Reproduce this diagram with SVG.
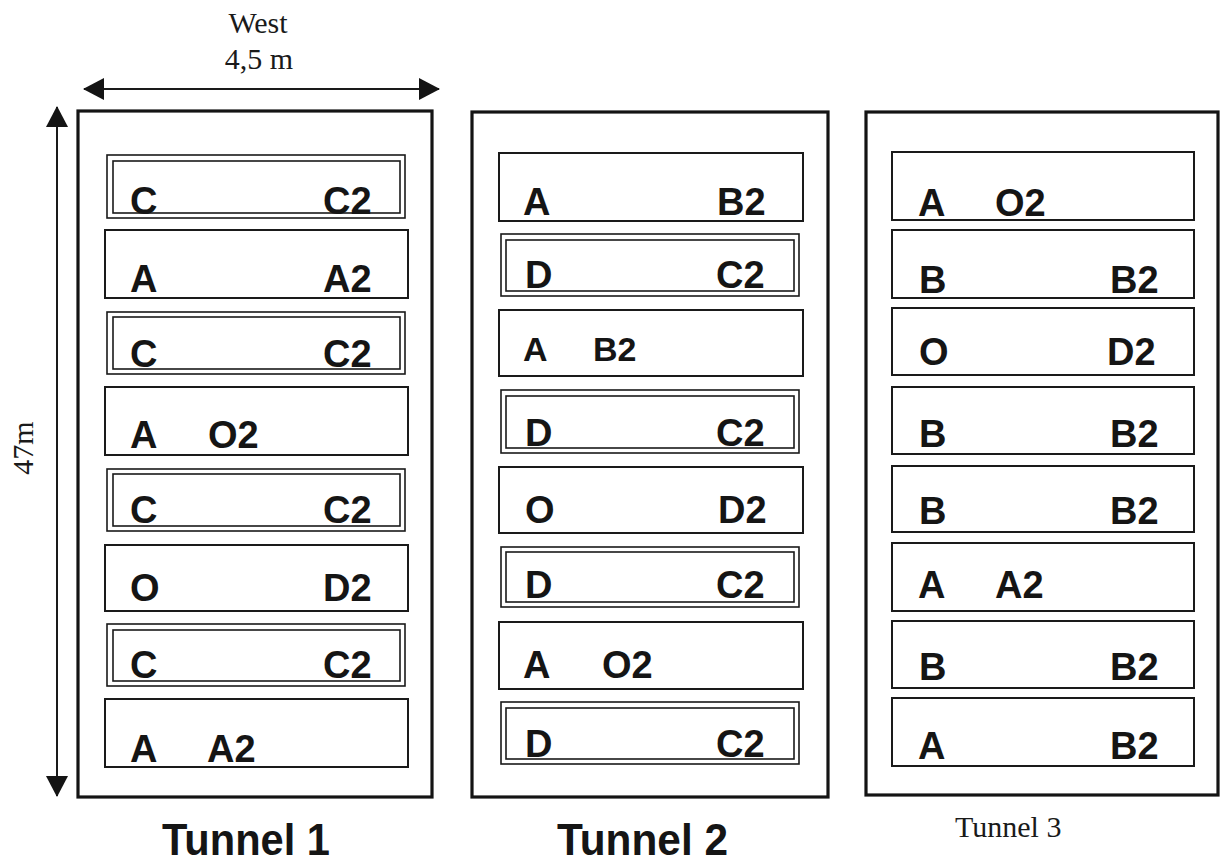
<svg xmlns="http://www.w3.org/2000/svg" width="1225" height="867" viewBox="0 0 1225 867">
<defs>
<style>
.tun{fill:none;stroke:#141414;stroke-width:3.2}
.row{fill:none;stroke:#1a1a1a;stroke-width:2}
.dbl{fill:none;stroke:#1a1a1a;stroke-width:1.6}
.lbl{font-family:"Liberation Sans",Arial,sans-serif;font-weight:bold;font-size:38px;fill:#151515}
.sm{font-size:34px}
.ser{font-family:"Liberation Serif","Times New Roman",serif;font-size:30px;fill:#1a1a1a}
.big{font-family:"Liberation Sans",Arial,sans-serif;font-weight:bold;font-size:44px;fill:#151515}
.dim{stroke:#1a1a1a;stroke-width:2;fill:none}
</style>
<marker id="ah" markerUnits="userSpaceOnUse" markerWidth="21" markerHeight="22" viewBox="0 0 21 22" refX="20" refY="11" orient="auto-start-reverse">
<path d="M0,0 L21,11 L0,22 z" fill="#141414"/>
</marker>
</defs>
<rect width="1225" height="867" fill="#ffffff"/>

<g id="connectors">
<line class="dim" x1="84" y1="89" x2="439" y2="89" marker-start="url(#ah)" marker-end="url(#ah)"/>
<line class="dim" x1="57" y1="107" x2="57" y2="796" marker-start="url(#ah)" marker-end="url(#ah)"/>
</g>

<g id="dimension-labels">
<text class="ser" x="258" y="33" text-anchor="middle">West</text>
<text class="ser" x="259" y="69" text-anchor="middle">4,5 m</text>
<text class="ser" transform="translate(33,448) rotate(-90)" text-anchor="middle">47m</text>
</g>

<g id="tunnel1">
<rect class="tun" x="78" y="111" width="354" height="686"/>
<g id="t1r1"><rect class="dbl" x="107" y="155" width="298" height="63"/><rect class="dbl" x="113" y="161" width="287" height="52"/>
<text class="lbl" x="130" y="214">C</text><text class="lbl" x="323" y="214">C2</text></g>
<g id="t1r2"><rect class="row" x="105" y="230" width="303" height="68"/>
<text class="lbl" x="130" y="292">A</text><text class="lbl" x="323" y="292">A2</text></g>
<g id="t1r3"><rect class="dbl" x="107" y="312" width="298" height="62"/><rect class="dbl" x="113" y="317" width="287" height="52"/>
<text class="lbl" x="130" y="367">C</text><text class="lbl" x="323" y="367">C2</text></g>
<g id="t1r4"><rect class="row" x="105" y="387" width="303" height="68"/>
<text class="lbl" x="130" y="448">A</text><text class="lbl" x="208" y="448">O2</text></g>
<g id="t1r5"><rect class="dbl" x="107" y="469" width="298" height="62"/><rect class="dbl" x="113" y="474" width="287" height="52"/>
<text class="lbl" x="130" y="523">C</text><text class="lbl" x="323" y="523">C2</text></g>
<g id="t1r6"><rect class="row" x="105" y="545" width="303" height="66"/>
<text class="lbl" x="130" y="601">O</text><text class="lbl" x="323" y="601">D2</text></g>
<g id="t1r7"><rect class="dbl" x="107" y="624" width="298" height="62"/><rect class="dbl" x="113" y="630" width="287" height="51"/>
<text class="lbl" x="130" y="678">C</text><text class="lbl" x="323" y="678">C2</text></g>
<g id="t1r8"><rect class="row" x="105" y="699" width="303" height="68"/>
<text class="lbl" x="130" y="762">A</text><text class="lbl" x="207" y="762">A2</text></g>
<text class="big" x="162" y="855" textLength="168" lengthAdjust="spacingAndGlyphs">Tunnel 1</text>
</g>

<g id="tunnel2">
<rect class="tun" x="472" y="112" width="356" height="685"/>
<g id="t2r1"><rect class="row" x="499" y="153" width="304" height="68"/>
<text class="lbl" x="523" y="215">A</text><text class="lbl" x="717" y="215">B2</text></g>
<g id="t2r2"><rect class="dbl" x="501" y="234" width="298" height="62"/><rect class="dbl" x="506" y="240" width="288" height="51"/>
<text class="lbl" x="525" y="288">D</text><text class="lbl" x="716" y="288">C2</text></g>
<g id="t2r3"><rect class="row" x="499" y="310" width="304" height="66"/>
<text class="lbl sm" x="523" y="361">A</text><text class="lbl sm" x="593" y="361">B2</text></g>
<g id="t2r4"><rect class="dbl" x="501" y="390" width="298" height="63"/><rect class="dbl" x="506" y="396" width="288" height="52"/>
<text class="lbl" x="525" y="446">D</text><text class="lbl" x="716" y="446">C2</text></g>
<g id="t2r5"><rect class="row" x="499" y="467" width="304" height="66"/>
<text class="lbl" x="525" y="523">O</text><text class="lbl" x="718" y="523">D2</text></g>
<g id="t2r6"><rect class="dbl" x="501" y="547" width="298" height="60"/><rect class="dbl" x="506" y="552" width="288" height="50"/>
<text class="lbl" x="525" y="598">D</text><text class="lbl" x="716" y="598">C2</text></g>
<g id="t2r7"><rect class="row" x="499" y="622" width="304" height="67"/>
<text class="lbl" x="523" y="678">A</text><text class="lbl" x="602" y="678">O2</text></g>
<g id="t2r8"><rect class="dbl" x="501" y="702" width="298" height="62"/><rect class="dbl" x="506" y="708" width="288" height="51"/>
<text class="lbl" x="525" y="757">D</text><text class="lbl" x="716" y="757">C2</text></g>
<text class="big" x="557" y="855" textLength="171" lengthAdjust="spacingAndGlyphs">Tunnel 2</text>
</g>

<g id="tunnel3">
<rect class="tun" x="866" y="112" width="352" height="683"/>
<g id="t3r1"><rect class="row" x="892" y="152" width="302" height="68"/>
<text class="lbl" x="918" y="216">A</text><text class="lbl" x="995" y="216">O2</text></g>
<g id="t3r2"><rect class="row" x="892" y="230" width="302" height="68"/>
<text class="lbl" x="919" y="293">B</text><text class="lbl" x="1110" y="293">B2</text></g>
<g id="t3r3"><rect class="row" x="892" y="308" width="302" height="67"/>
<text class="lbl" x="919" y="365">O</text><text class="lbl" x="1107" y="365">D2</text></g>
<g id="t3r4"><rect class="row" x="892" y="387" width="302" height="67"/>
<text class="lbl" x="919" y="447">B</text><text class="lbl" x="1110" y="447">B2</text></g>
<g id="t3r5"><rect class="row" x="892" y="466" width="302" height="66"/>
<text class="lbl" x="919" y="524">B</text><text class="lbl" x="1110" y="524">B2</text></g>
<g id="t3r6"><rect class="row" x="892" y="543" width="302" height="68"/>
<text class="lbl" x="918" y="598">A</text><text class="lbl" x="995" y="598">A2</text></g>
<g id="t3r7"><rect class="row" x="892" y="621" width="302" height="67"/>
<text class="lbl" x="919" y="680">B</text><text class="lbl" x="1110" y="680">B2</text></g>
<g id="t3r8"><rect class="row" x="892" y="698" width="302" height="68"/>
<text class="lbl" x="918" y="759">A</text><text class="lbl" x="1110" y="759">B2</text></g>
<text class="ser" x="955" y="837">Tunnel 3</text>
</g>
</svg>
